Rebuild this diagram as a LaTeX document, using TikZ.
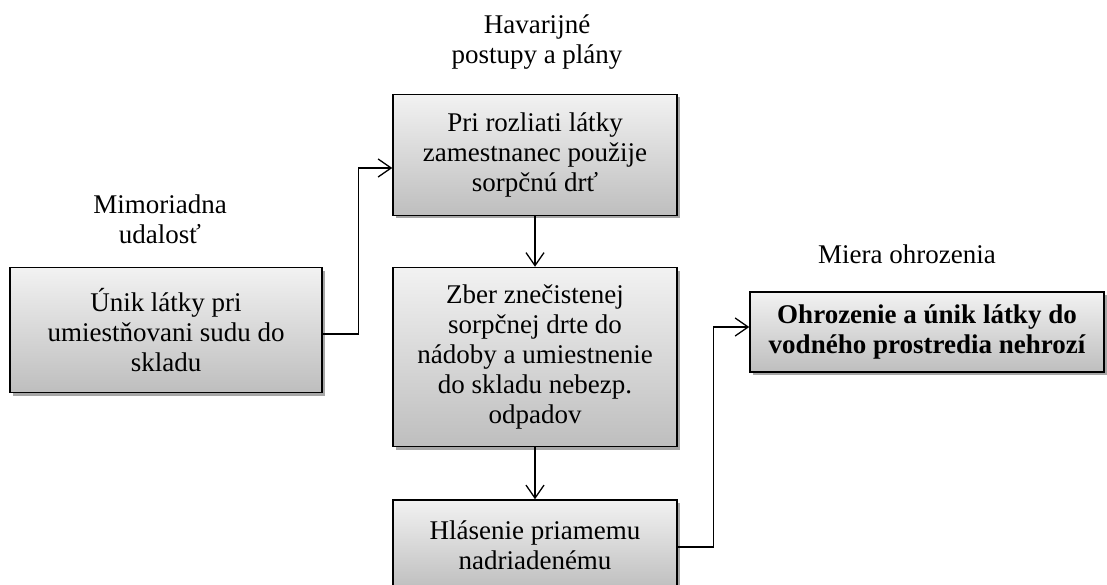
\documentclass[tikz,border=0pt]{standalone}
\usepackage{fontspec}
\setmainfont{Liberation Serif}
\usepackage{tikz}
\usetikzlibrary{arrows.meta,shadows}

\begin{document}
\begin{tikzpicture}[x=1pt,y=-1pt,
  krok/.style={draw,line width=1.5pt,top color={rgb,255:red,242;green,242;blue,242},
    bottom color={rgb,255:red,190;green,190;blue,190},
    drop shadow={shadow xshift=3pt,shadow yshift=-3pt,fill=black,opacity=0.35},
    align=center,inner sep=0pt,font=\fontsize{27}{30}\selectfont},
  popis/.style={align=center,font=\fontsize{27}{30}\selectfont},
  sip/.style={line width=1.3pt,-{Straight Barb[length=13pt,width=18pt,line width=1.3pt]}}]
\useasboundingbox (0,0) rectangle (1107,585);
\clip (0,0) rectangle (1107,585);
% popisy nad krokmi
\node[popis] (havar) at (537,42) {Havarijné\\postupy a plány};
\node[popis] (mimor) at (160,219) {Mimoriadna\\udalosť};
\node[popis] (miera) at (907,254) {Miera ohrozenia};
% kroky
\node[krok,minimum width=312pt,minimum height=125pt] (unik) at (166,330) {Únik látky pri\\umiestňovani sudu do\\skladu};
\node[krok,minimum width=284pt,minimum height=121pt] (rozliat) at (535,155) {Pri rozliati látky\\zamestnanec použije\\sorpčnú drť};
\node[krok,minimum width=284pt,minimum height=179pt] (zber) at (535,357) {Zber znečistenej\\sorpčnej drte do\\nádoby a umiestnenie\\do skladu nebezp.\\odpadov};
\node[krok,minimum width=284pt,minimum height=90pt] (hlasenie) at (535,545) {Hlásenie priamemu\\nadriadenému};
\node[krok,minimum width=354pt,minimum height=80pt,font=\fontsize{27}{30}\selectfont\bfseries] (ohroz) at (927,332) {Ohrozenie a únik látky do\\vodného prostredia nehrozí};
% spojnice
\draw[sip] ([yshift=-4pt]unik.east) -- ++(36,0) |- ([yshift=-13pt]rozliat.west);
\draw[sip] (rozliat.south) -- (zber.north);
\draw[sip] (zber.south) -- (hlasenie.north);
\draw[sip] ([yshift=-2pt]hlasenie.east) -- ++(36,0) |- ([yshift=5pt]ohroz.west);
\end{tikzpicture}
\end{document}
